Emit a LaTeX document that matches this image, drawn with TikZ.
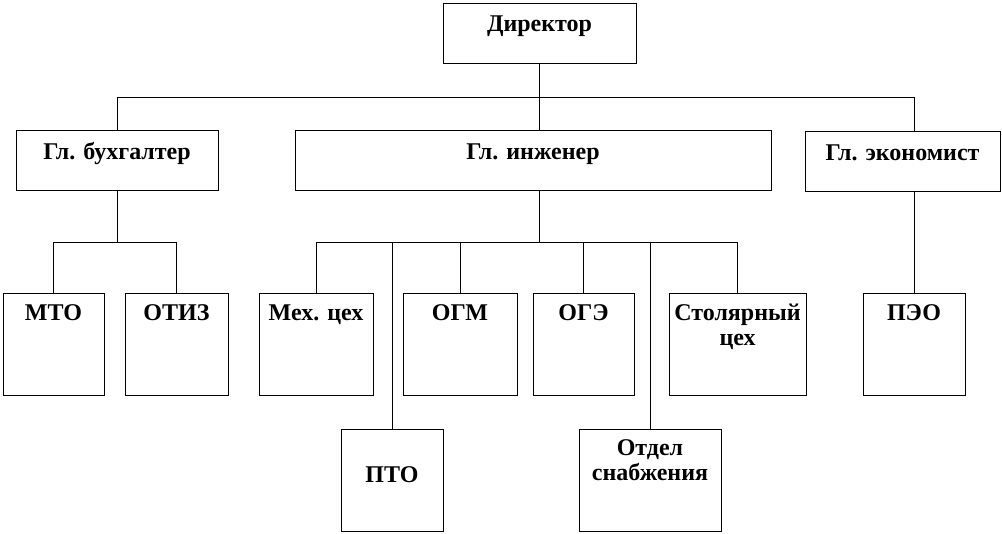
\documentclass[tikz,border=0pt]{standalone}
\usepackage{fontspec}
\setmainfont{Liberation Serif}[BoldFont={Liberation Serif Bold}]
\usepackage{tikz}
\usetikzlibrary{positioning, calc}

\begin{document}
\begin{tikzpicture}[
    x=1pt, y=-1pt, line width=0.9pt,
    unit/.style={draw, anchor=north, inner sep=0pt, align=center,
        font=\bfseries\fontsize{24}{25}\selectfont},
    head/.style={unit, minimum height=60pt, text height=29pt, text depth=31pt},
    dept/.style={unit, minimum height=102pt, text height=27pt, text depth=75pt}
]
    \useasboundingbox (0,0) rectangle (1002,534);
    % top level
    \node[head, minimum width=193pt, text height=28pt, text depth=32pt] (dir) at (539.5,3) {Директор};
    % deputies
    \node[head, minimum width=202pt] (buh) at (117,130) {Гл. бухгалтер};
    \node[head, minimum width=476pt] (ing) at (533,130) {Гл. инженер};
    \node[head, minimum width=195pt] (eko) at (902.5,131) {Гл. экономист};
    % departments
    \node[dept, minimum width=101pt] (mto) at (53.5,293) {МТО};
    \node[dept, minimum width=103pt] (otiz) at (176.5,293) {ОТИЗ};
    \node[dept, minimum width=114pt] (meh) at (316,293) {Мех. цех};
    \node[dept, minimum width=114pt] (ogm) at (460,293) {ОГМ};
    \node[dept, minimum width=101pt] (oge) at (583.5,293) {ОГЭ};
    \node[dept, minimum width=137pt, text height=52pt, text depth=50pt] (stol) at (737.5,293) {Столярный\\цех};
    \node[dept, minimum width=102pt] (peo) at (914,293) {ПЭО};
    \node[dept, minimum width=102pt, text height=53pt, text depth=49pt] (pto) at (392,429) {ПТО};
    \node[dept, minimum width=142pt, text height=51pt, text depth=51pt] (snab) at (650,429) {Отдел\\снабжения};

    \coordinate (top bus) at (0,97);
    \coordinate (mid bus) at (0,242);

    \draw (dir.south) -- (dir.south |- ing.north);
    \draw (buh.north) |- (peo.north |- top bus) -- (peo.north |- eko.north);
    \draw (buh.south) -- (buh.south |- mid bus);
    \draw (mto.north) |- (otiz.north |- mid bus) -- (otiz.north);
    \draw (dir.south |- ing.south) -- (dir.south |- mid bus);
    \draw (meh.north) |- (stol.north |- mid bus) -- (stol.north);
    \foreach \n in {pto, ogm, oge, snab}
        \draw (\n.north) -- (\n.north |- mid bus);
    \draw (peo.north |- eko.south) -- (peo.north);
\end{tikzpicture}
\end{document}
